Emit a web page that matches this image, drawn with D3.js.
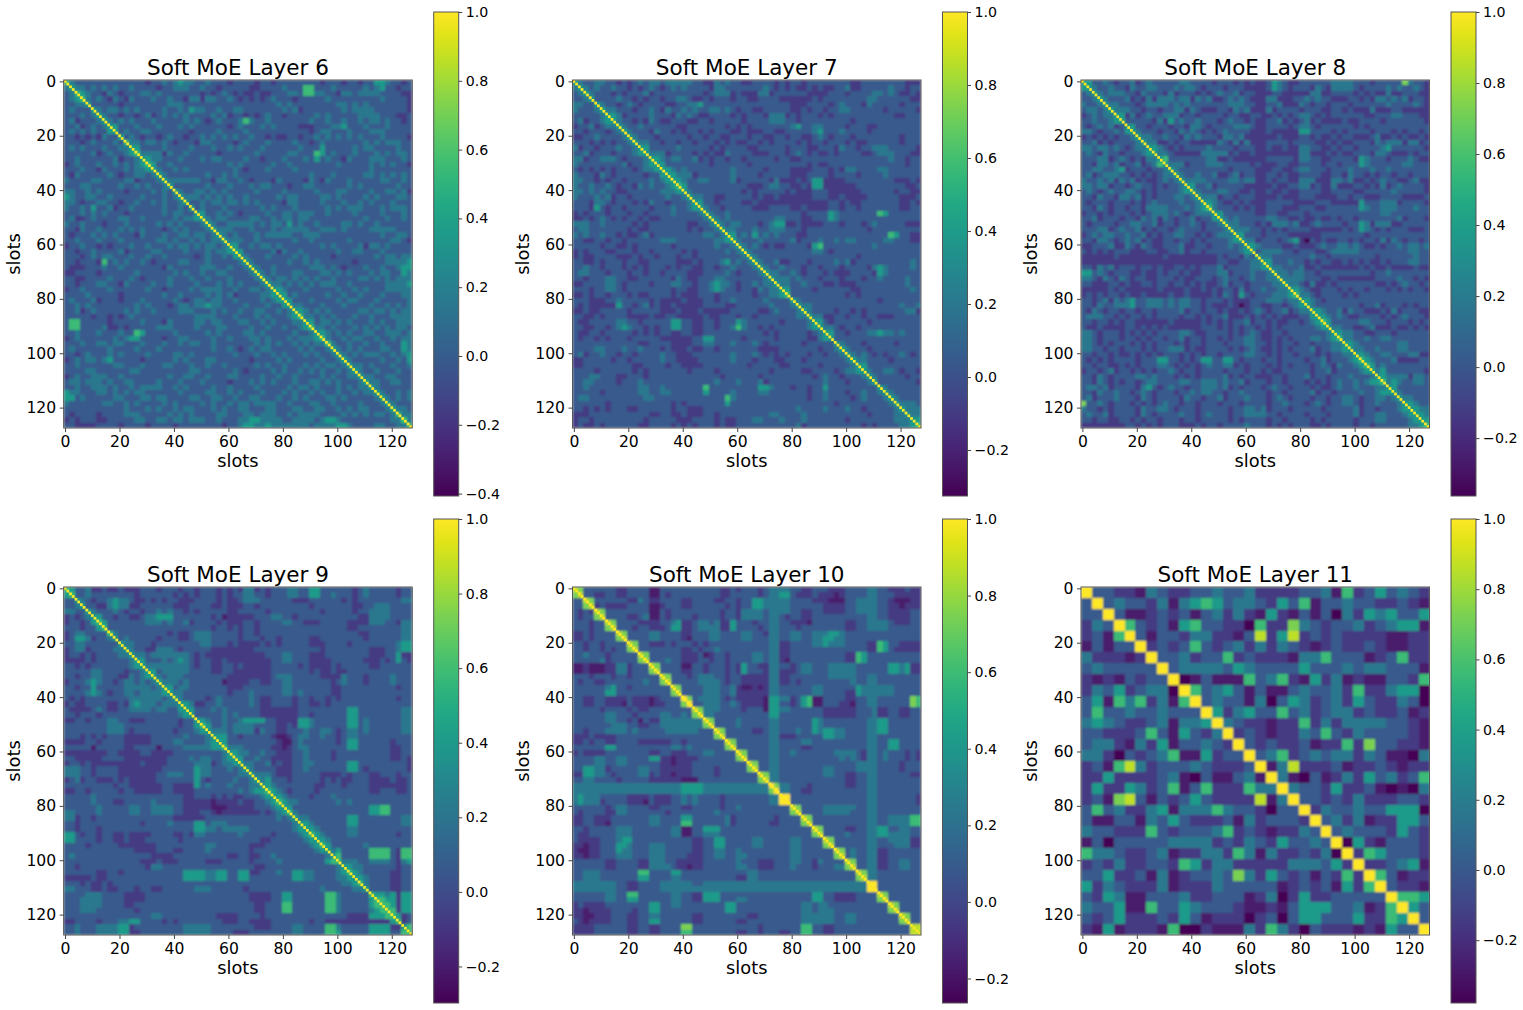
<!DOCTYPE html>
<html>
<head>
<meta charset="utf-8">
<script src="https://cdn.jsdelivr.net/npm/d3@7"></script>
<style>
  body { margin: 0; background: #fff; }
  text { font-family: "DejaVu Sans", sans-serif; fill: #000; }
</style>
</head>
<body>
<div id="chart"></div>
<script>
// Values. The matrices are symmetric, so only the lower triangle is kept.
// Each digit is a colour level (see levelPosition), 0 = bottom of that panel's colorbar, 9 = top.
// Spaces are only for counting.
const layers = [6, 7, 8, 9, 10, 11];
const layerMin = [-0.407, -0.326, -0.363, -0.298, -0.264, -0.379];
const slotTicks = [0, 20, 40, 60, 80, 100, 120];
const barTicks = [-0.4, -0.2, 0, 0.2, 0.4, 0.6, 0.8, 1];
const levelPosition = [0, 0.07, 0.17, 0.28, 0.40, 0.54, 0.68, 0.80, 0.90, 1];

const layer6 = ["6","45","346","3456","33445","343335","3334345","34233345","33423434 5","34343433 55","33232324 335","33323433 3436","34343334 33445","33333423 433456","33433333 3423345","23433343 34343456","33343324 33343445 5","32433333 43233443 45","43333443 33344233 345","33344333 33433434 3345","44334343 33323333 43435","54334433 43333343 334345","44323344 33233433 4343345","43343533 42334333 33433435","33343434 33323333 33434433 5","34223433 33443343 33334344 55","43343332 33343333 34343433 345","33243343 33434343 33234343 3345","32333434 34333243 33433443 44345","33433343 33433333 34434334 343445","23343323 23334334 33343443 4344345","33233433 33423333 44333343 33434455","33323434 43334334 33433333 23433435 5","33233326 34343343 23333443 33433333 45","32223334 33433333 33243333 34443343 345","22333323 33333433 33334343 34334433 3345","33223333 43334323 33343334 33433343 33345","33233344 33243333 43343333 43334343 433345","23343333 43333334 33233334 34444334 3344345","33334333 33233333 33433433 33434342 33334455","34333423 33233343 33334323 44344334 33334345 5","33434333 33333434 33323443 44544333 34333433 55","33423433 33343433 43333444 33343433 43344334 345","33333233 23234333 33333333 44443334 33343433 3456","36633333 23333343 33243333 44344333 44334343 33445","36633334 22323333 34443333 43334433 33433433 433456","33433343 33433653 33334333 33434333 34434333 3343345","23433333 34345533 33233443 33343343 33443433 34344456","33343344 34433343 33433434 43343333 33343434 33434344 6","34333333 43333433 34333333 33343343 23434433 33343433 45","33234333 43433334 33334434 33333334 33343343 43334343 345","23434434 53333323 33334343 33443333 33233334 34333334 3345","33433333 34433343 33443334 33433433 33343433 43334343 44345","33334433 33334433 33333334 43333334 32333343 43343434 334345","23433444 33433333 33343344 33433344 33334334 33433334 3433445","34434443 43344333 34333433 34333323 33434343 33433443 43433345","33433444 34334344 44334343 33343343 33343333 34344343 33434344 5","54433344 34343443 33333433 33443343 43334333 43433434 33433434 45","55343333 34433344 34433334 43344334 33443334 33434333 44343333 345","43333334 43343433 33434333 34343343 44344443 34333443 34333343 3345","33333333 33343334 34334344 33343433 44333443 33443344 33434344 33345","32333323 33344433 33343434 33334433 34434443 34344443 33343434 344346","23233322 33333443 34434434 44334333 44554444 33444434 55433333 3333446","33222233 33233332 33332333 33333233 45544544 44444344 44554333 34433446"];

const layer7 = ["5","45","345","3345","44335","433345","3333345","34233455","23342344 5","33233323 45","22334333 345","33323232 3345","42332333 43345","33423332 333455","44233444 3233345","43333333 34233455","32323232 33323445 5","43332432 33333233 55","44332323 32333343 455","43343343 23324343 3456","44343433 22333333 44455","43334342 33233333 343345","33324432 33323243 3233345","33325323 32333323 33433455","23233323 33233233 33433334 5","22323432 32332322 33333333 45","44433433 33323233 33333223 345","34433333 33232233 33333232 3345","43433433 23223423 33333333 44345","33223323 32333333 44433333 334455","33333233 22323333 33233333 3343345","23233322 33323323 33332323 33334345","23223333 22232332 33323323 33333334 5","33223233 32332233 33322232 33345343 45","33433233 32323233 32323322 33233433 345","34433323 33233233 23333222 33334323 3345","33233344 33223333 33243223 33443333 33345","22333344 32333323 33443323 34544323 343445","33323344 32333333 33233223 34543323 3243445","22323323 33232233 33232223 33233333 32334456","33322233 43333323 22223222 33233433 33343333 5","32322222 53323423 22322222 33332233 33334333 45","22322333 33233333 22232223 22222333 33223433 345","33223233 33222232 23322222 32233323 32333333 3445","32233333 44332333 33553322 33233354 33333323 33345","33223323 45433232 33553322 33233464 33232333 333455","32233233 33323232 33223322 33333333 33323233 3332345","32332323 33233333 22222233 55333332 33333233 33322455","33333333 33332233 33222233 44333433 34323333 33233333 5","33334433 34334333 23222322 33233333 33222233 33333233 45","34233433 23323333 43322233 33333433 34323232 33323323 345","22333332 33233333 43322223 33333433 32333223 33233333 3345","22333333 33322333 32332222 33333333 23333322 33333233 33345","33332333 33323233 33333233 33233333 33332333 33223333 234455","33344333 22333233 33333333 33323333 33233333 33332343 3233345","33443333 23334333 33333333 33433343 33423333 33333343 33233345","33433333 33334433 43333333 63333333 33554333 23323353 33333333 5","33333233 33334433 44333333 53333433 33443333 33323343 33233433 45","34433333 33333443 33333333 33336433 33333333 33323343 33323433 345","33333323 33333333 33232333 33335333 33333333 33333333 23333333 3345","33232323 33223333 33233222 33333333 33333333 34333343 33433233 33345","22233333 33333322 33223222 33233333 33334433 33433333 33333323 333445","23323333 33333233 33322233 33232233 34433343 33433333 33233333 3334445","23223233 33332233 33232323 33232233 33333333 34233333 33333232 33334456"];

const layer8 = ["5","55","345","3345","43345","344345","2343445","33433455","32343423 5","44323343 55","23232323 345","33423233 3345","44344343 23445","34324332 333455","33344234 3232445","33244342 33423465","33443345 23332334 5","34234443 32323234 45","43343424 34232234 345","44344233 23433232 3345","34323433 44323233 33455","33243324 43423233 344345","32333233 32323433 3343345","33243233 23324444 33343456","23323233 32323444 34323444 5","33423332 33243424 32334233 55","32333323 34433423 32334323 345","33344234 33423233 23433323 3345","23434433 43342323 34433232 34445","33244323 43423223 32332323 333455","22333422 43243223 33422332 3334345","32323233 32223322 33423323 33333455","22222232 22222223 22222222 23233243 5","22222222 22222222 22222222 23322334 45","33243423 33233232 23323233 34233334 455","55343233 32232232 33232233 34423334 3345","44324324 32332233 32322333 23433234 33445","33222332 32233233 23323232 23423323 333445","22222323 22222232 22232232 32332423 3433445","23232332 32232222 32232222 32432532 33344456","33234243 45334443 43443323 33232223 33444344 5","33243344 45334443 43443323 22232023 32233234 55","32432332 33233233 33423323 32322323 43233423 445","34443323 23323233 33233232 33422232 32323222 3355","33233232 33222222 32222232 32323342 33232233 23456","32232222 33232323 22222233 32323233 23232333 333455","44323332 32323233 33443223 33323234 32233233 3333345","44323332 33232332 33423323 32323344 32232323 33443456","44323233 32323233 32323323 33233344 33232332 33233344 5","44332332 33323233 44423223 33323234 32232323 33423344 55","33233232 23232323 33232323 32333344 33232332 33323233 445","32323233 33233355 33232355 33553233 32332333 32334233 3456","33233223 23233344 32323234 33442323 33232323 33234324 33456","23323423 32323233 43233233 33233323 32322333 33233423 333455","33243233 33443433 32323233 33423233 22233233 34233233 3433345","33243232 33234433 33443344 43433423 33233233 32323234 33434556","34434233 33245323 43323344 43423233 32343323 33232234 33433344 5","33243343 32343233 32334344 33233433 33233233 33423323 33343345 55","34233343 33243233 33243323 34233343 33234323 33233233 44323344 345","73343233 32323234 33233233 32333233 33233433 32343233 44323343 3345","43323233 33243344 32333233 33323344 34233323 33332333 33423323 33455","34334233 33243233 33433234 33323344 44332333 32333233 33423344 333455","33233223 32323323 33233233 33323233 33233233 33232333 33233344 3333455","22222222 33232323 33222323 32333343 33232323 33223233 33233233 33334456"];

const layer9 = ["6","56","335","3345","44335","232345","2332356","33323356","23443333 6","23554233 45","33443333 335","23442333 3445","23323233 33445","22223233 333345","33232333 3333455","33333443 33323345","33233443 33224345 5","23334543 32344343 45","33233533 33344444 345","33334543 23344344 4455","32323333 33334444 44345","23223333 22324544 434445","32222343 22334444 3443355","33233323 33333333 33333455","22332333 44332223 33333233 5","33333333 44433333 33333233 56","33333333 44432333 33332333 455","33323232 33322222 33333343 3345","22223323 33322222 33334433 33455","33333133 33322333 31333344 444556","22222222 33222233 22223333 3333345","33222223 33322222 22233334 34433455","23323222 22222232 22233333 44423445 5","44433233 33222222 22333333 54433343 45","44433233 33222222 23344433 54433333 445","23423322 23232222 23333333 53233334 3345","33333333 32332222 22332222 53433343 33445","22332333 33233222 22332222 33333333 434556","33333433 33333333 33333322 33323232 2333455","33333433 32233333 43333322 22212222 32233456","33333343 33334433 44443322 22211122 22233345 5","44333343 33334433 44443322 23321222 22223234 56","44233233 33333333 33332222 22333333 33333334 345","33233333 33333323 33343333 55344433 33333333 3345","33233323 33333333 33333333 55443444 44333333 33455","55323323 32232222 33332232 44333333 43333323 333456","55333323 32232223 33333233 33333333 33332233 3333455","33332333 33222222 23333333 33443333 33222333 33333456","33333333 33333222 23332233 33433333 33233333 33333345 5","34333333 33333333 22223333 33333322 33223343 33333333 45","33333333 33333322 23222333 33222333 33233334 33333333 566","33233333 33333332 44333333 33333333 33322333 33333333 3345","33333322 33233333 33333355 55445533 55223334 33554433 33456","22222322 33333333 33333355 55445533 55333333 33554433 334455","33323223 23333333 33333333 33333333 33333333 33333333 3334456","44333223 22333233 22333333 44433333 32333333 33333334 33333445","33334443 33322223 33333333 33333333 33222233 55333333 66433333 6","33344443 33322223 33333333 33333333 33222233 55333333 66433333 56","33344443 33322333 33333333 33333333 33322333 66333333 66433333 566","33344433 33333233 33333333 33333333 33322333 66333333 66433333 4566","33333333 33333333 44333333 33332222 33332333 33333333 33332222 55566","22333323 33445533 33232333 33333222 33222233 33333233 22222222 222256","33433344 44552333 33333344 44433333 33322233 33443333 66433333 5555225","33433344 44552233 33333344 44433332 22333333 33443333 66533333 55553366"];

const layer10 = ["8","78","338","3378","32328","323378","3332338","33323378","22323333 8","22323333 78","33233233 338","33233232 3378","33433323 33338","33333423 333378","11211122 4423338","11211122 44233378","33323332 33233333 8","32332233 33333433 78","33333345 33233333 338","33333355 33333333 3378","33223322 22322212 33339","33223322 21322212 233379","33333233 33232233 3333338","33333344 33323333 44334378","33333344 33231322 44444444 8","33333334 44332233 44444444 78","33233344 44343333 34444443 338","22232222 33333333 33333333 3378","22323322 33332222 22332333 33338","33333355 33333333 33443433 333378","23222233 33333322 33222333 4433338","33334433 44333355 22122223 33333378","33334433 44333333 22122233 33333333 8","33554423 33334433 22222233 33233333 78","22554432 33334423 22122233 33233333 338","33443333 23333322 22221113 33333333 3378","44444444 44444444 44445555 44444444 44449","44444444 44444444 44445555 44444444 444479","45444333 33222232 22334343 33323333 3333449","45444233 33222132 22334343 33323333 33334499","33333323 44333322 33332233 33323343 33333333 8","32333322 44333333 32333333 33433333 33333333 78","22332223 33333344 33335533 33334233 33333233 338","22332213 33333344 33336633 33334233 33332233 3378","33233333 44433333 33441133 55533333 33333333 33338","32233333 44433333 33441133 44433333 33333333 333378","32222333 45533333 33333322 33553333 34433333 4433338","22122333 55433344 43333322 33553333 34433333 44333378","21122333 54433344 43333322 33443343 33333333 44333333 8","22122333 44433344 43333222 33443344 33333333 44333333 78","33333322 33332244 43322222 33333343 33222333 44332433 338","33333322 33332244 44322122 33333344 33222333 43332333 4478","33444333 33336633 33553333 33333333 44333333 33333333 33338","33444333 33335533 33443333 33333322 44333333 33333333 333378","44444444 33223333 44444433 44444444 44444444 44444444 4444449","44444444 33223333 44444444 44444444 44444444 44444444 44444499","33333344 33663333 33443322 55533333 33333333 33335533 22223333 8","33333344 33553333 33443322 55533344 33333333 33335533 22223333 78","23222233 33333355 33443333 33335533 33333333 33443443 33333333 338","22122223 33323355 33333333 33335533 33333333 33443444 33333333 3378","22112223 33223344 33333322 33333333 22333333 33444444 33443333 33338","32122223 33223355 33333322 33333322 33333333 33444444 33443333 333378","22223333 33223322 33337733 33333333 33233333 33663322 33333333 3333338","22223333 33223322 33336633 33333322 33233322 33663322 33333333 33333388"];

const layer11 = ["9","39","339","2439","23169","131339","4222129","34333339","21213233 9","24352344 09","35164624 169","36334334 3339","45432234 14459","33222363 153249","34421425 1334329","44203234 61152339","23168423 33432223 9","22522223 41031134 19","25225423 61362226 449","23178313 23532222 8149","36342245 14446433 20339","31133143 53222314 233329","43322263 23334623 2122439","13033333 44442324 32533439","64432234 12244264 14223240 9","23242233 26524422 22244435 29","33522314 12334374 25323132 629","52432224 12224333 33123231 5269","32541133 34223331 24025223 33339","43351163 35433321 12135553 341269","32352223 25312220 23035533 3522659","21512221 60021114 26420322 21215339"];

const slotDiagonal = [1,1,1,1,1,1,1,1,1,1,1,1,1,1,1,1,1,1,1,1,1,1,1,1,1,1,1,1,1,1,1,1,
  1,1,1,1,1,1,1,1,1,1,1,1,1,1,1,1,1,1,1,1,1,1,1,1,1,1,1,1,1,1,1,1,
  1,1,1,1,1,1,1,1,1,1,1,1,1,1,1,1,1,1,1,1,1,1,1,1,1,1,1,1,1,1,1,1,
  1,1,1,1,1,1,1,1,1,1,1,1,1,1,1,1,1,1,1,1,1,1,1,1,1,1,1,1,1,1,1,1];

const layerRows = [layer6, layer7, layer8, layer9, layer10, layer11];

const svg = d3.select("#chart").append("svg")
    .attr("width", 1523)
    .attr("height", 1010);

// softening, the reference is a rescaled raster
const filter = svg.append("defs").append("filter")
    .attr("id", "soft")
    .attr("x", 0).attr("y", 0).attr("width", 1).attr("height", 1);
filter.append("feGaussianBlur")
    .attr("stdDeviation", 0.9)
    .attr("edgeMode", "duplicate");

const axW = 348.5, axH = 348, barW = 25, barH = 484;

layers.forEach((layer, idx) => {
    const left = [63.7, 572.5, 1081][idx % 3];
    const top = idx < 3 ? 80 : 587;
    const barLeft = left + 370;
    const barTop = idx < 3 ? 12 : 519;
    const vmin = layerMin[idx];

    const g = svg.append("g").attr("transform", `translate(${left},${top})`);

    const x = d3.scaleLinear().domain([-0.5, 127.5]).range([0, axW]);
    const y = d3.scaleLinear().domain([-0.5, 127.5]).range([0, axH]);
    const color = d3.scaleSequential(d3.interpolateViridis).domain([vmin, 1]);
    const levelToValue = d => vmin + levelPosition[d] * (1 - vmin);

    // unfold the lower triangle to a flat cell list
    const rows = layerRows[idx].map(r => r.replace(/ /g, ""));
    const n = rows.length;
    const span = 128 / n;
    const cells = [];
    rows.forEach((row, r) => {
        for (let c = 0; c < row.length && c <= r; c++) {
            const value = levelToValue(+row[c]);
            cells.push({r: r, c: c, value: value});
            if (c !== r) cells.push({r: c, c: r, value: value});
        }
    });

    // layer 11 keeps sharper blocks in the reference too, but the same softening is fine
    const heat = g.append("g").attr("filter", "url(#soft)");
    heat.append("rect")
        .attr("width", axW)
        .attr("height", axH)
        .attr("fill", color(levelToValue(3)));
    heat.selectAll(".cell")
        .data(cells)
        .join("rect")
        .attr("class", "cell")
        .attr("x", d => x(d.c * span - 0.5))
        .attr("y", d => y(d.r * span - 0.5))
        .attr("width", x(span) - x(0))
        .attr("height", y(span) - y(0))
        .attr("shape-rendering", "crispEdges")
        .attr("fill", d => color(d.value));

    // the one slot wide diagonal, layer 10 and 11 have it as blocks in the cells already
    if (n === 64) {
        g.append("g").selectAll(".diag")
            .data(slotDiagonal)
            .join("rect")
            .attr("class", "diag")
            .attr("x", (d, i) => x(i - 0.5))
            .attr("y", (d, i) => y(i - 0.5))
            .attr("width", x(1) - x(0))
            .attr("height", y(1) - y(0))
            .attr("fill", d => color(d));
    }

    g.append("rect")
        .attr("width", axW)
        .attr("height", axH)
        .attr("fill", "none")
        .attr("stroke", "#555")
        .attr("stroke-width", 1);

    const xAxis = g.append("g")
        .attr("transform", `translate(0,${axH})`)
        .call(d3.axisBottom(x).tickValues(slotTicks).tickSize(4).tickPadding(3.5));
    const yAxis = g.append("g")
        .call(d3.axisLeft(y).tickValues(slotTicks).tickSize(4).tickPadding(3.5));
    [xAxis, yAxis].forEach(a => {
        a.select(".domain").remove();
        a.selectAll("text").style("font-size", "15.6px").style("font-family", '"DejaVu Sans"');
        a.selectAll("line").attr("stroke", "#444");
    });

    g.append("text")
        .attr("x", axW / 2)
        .attr("y", -5)
        .attr("text-anchor", "middle")
        .style("font-size", "21.5px")
        .text(`Soft MoE Layer ${layer}`);

    g.append("text")
        .attr("x", axW / 2)
        .attr("y", axH + 38.5)
        .attr("text-anchor", "middle")
        .style("font-size", "17.8px")
        .text("slots");

    g.append("text")
        .attr("transform", `translate(-44,${axH / 2}) rotate(-90)`)
        .attr("text-anchor", "middle")
        .style("font-size", "17.8px")
        .text("slots");

    // colorbar
    const gradId = `bar${layer}`;
    const grad = svg.select("defs").append("linearGradient")
        .attr("id", gradId)
        .attr("x1", 0).attr("y1", 1).attr("x2", 0).attr("y2", 0);
    d3.range(0, 1.0001, 0.05).forEach(t => {
        grad.append("stop")
            .attr("offset", t)
            .attr("stop-color", d3.interpolateViridis(t));
    });

    const bar = svg.append("g").attr("transform", `translate(${barLeft},${barTop})`);
    const barScale = d3.scaleLinear().domain([vmin, 1]).range([barH, 0]);
    bar.append("rect")
        .attr("width", barW)
        .attr("height", barH)
        .attr("fill", `url(#${gradId})`)
        .attr("stroke", "#555")
        .attr("stroke-width", 1);
    const barAxis = bar.append("g")
        .attr("transform", `translate(${barW},0)`)
        .call(d3.axisRight(barScale)
            .tickValues(barTicks.filter(t => t >= vmin))
            .tickSize(3.5)
            .tickPadding(3.5)
            .tickFormat(d3.format(".1f")));
    barAxis.select(".domain").remove();
    barAxis.selectAll("line").attr("stroke", "#444");
    barAxis.selectAll("text").style("font-size", "14.2px").style("font-family", '"DejaVu Sans"');
});
</script>
</body>
</html>
